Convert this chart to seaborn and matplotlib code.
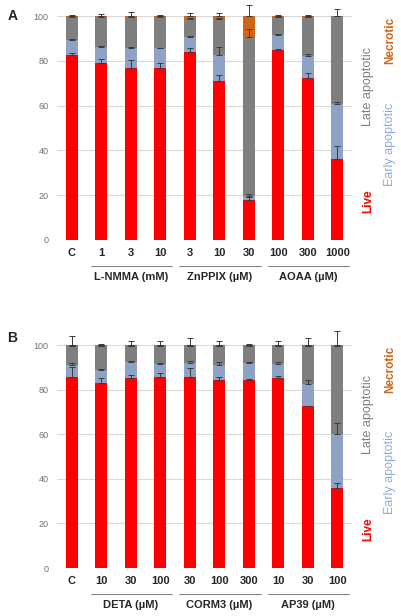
import matplotlib
matplotlib.use("Agg")
import matplotlib.pyplot as plt
import matplotlib.transforms as mtransforms
import numpy as np
import pandas as pd
import seaborn as sns

# panel A data (percent of cells)
A_labels = ["C", "1", "3", "10", "3", "10", "30", "100", "300", "1000"]
A_live = [82.5, 79, 77, 77, 84, 71, 17.8, 85, 72.5, 36]
A_early = [7, 7, 8.5, 8.5, 6.5, 11.5, 1.7, 6.5, 9.5, 24.5]
A_late = [10.2, 13.7, 14, 14.1, 8.3, 16.2, 71, 8.2, 17.7, 39.3]
A_necrotic = [0.3, 0.3, 0.5, 0.4, 1.2, 1.3, 9.5, 0.3, 0.3, 0.2]
A_live_err = [1, 2, 3.5, 2, 1.5, 2.5, 1.5, 0.3, 2, 6]
A_early_err = [0.3, 0.5, 0.5, 0.3, 0.5, 3.5, 1, 0.3, 1, 1]
A_late_err = [0.2, 0.2, 0.2, 0.2, 0.2, 0.3, 3.5, 0.2, 0.2, 0.2]
A_necrotic_err = [0.3, 1, 2, 0.5, 1.5, 1.5, 5, 0.3, 0.3, 3]
A_groups = [("L-NMMA (mM)", 1, 3), ("ZnPPIX (µM)", 4, 6), ("AOAA (µM)", 7, 9)]

# panel B data
B_labels = ["C", "10", "30", "100", "30", "100", "300", "10", "30", "100"]
B_live = [85.5, 83, 85, 85.5, 85.5, 84.5, 84.5, 85, 72.5, 36]
B_early = [5.5, 6, 7.5, 6, 6.5, 6.5, 7.5, 6.5, 10, 24]
B_late = [8.7, 10.7, 7.2, 8.2, 7.7, 8.7, 7.7, 8.2, 17.2, 39.7]
B_necrotic = [0.3, 0.3, 0.3, 0.3, 0.3, 0.3, 0.3, 0.3, 0.3, 0.3]
B_live_err = [4.5, 2, 1.5, 2, 4, 1, 0.3, 1, 0.3, 2]
B_early_err = [1, 0.3, 0.5, 0.5, 1, 1.5, 0.3, 1, 2, 5]
B_late_err = [0.2, 0.2, 0.2, 0.2, 0.2, 0.2, 0.2, 0.2, 0.2, 0.2]
B_necrotic_err = [4, 0.5, 2, 2, 3, 2, 0.3, 2, 3, 6.5]
B_groups = [("DETA (µM)", 1, 3), ("CORM3 (µM)", 4, 6), ("AP39 (µM)", 7, 9)]

C_LIVE = "#FF0000"
C_EARLY = "#8EA2C6"
C_LATE = "#7F7F7F"
C_NECRO = "#D0651A"

sns.set_style("white")
plt.rcParams["font.family"] = ["Liberation Sans", "DejaVu Sans"]


def draw_panel(ax, labels, live, early, late, necro, errs, groups):
  df = pd.DataFrame({"pos": range(len(labels)), "live": live, "early": early,
                     "late": late, "necro": necro})
  df["c_live"] = df["live"]
  df["c_early"] = df["c_live"] + df["early"]
  df["c_late"] = df["c_early"] + df["late"]
  df["c_necro"] = df["c_late"] + df["necro"]

  # stacked bars: draw the tallest first, then overlay
  for col, color in [("c_necro", C_NECRO), ("c_late", C_LATE),
                     ("c_early", C_EARLY), ("c_live", C_LIVE)]:
    sns.barplot(data=df, x="pos", y=col, color=color, saturation=1,
                width=0.41, linewidth=0, ax=ax, zorder=2)

  for col, err in zip(["c_live", "c_early", "c_late", "c_necro"], errs):
    ax.errorbar(df["pos"], df[col], yerr=[np.zeros(len(err)), err], fmt="none",
                ecolor="#3a3a3a", elinewidth=0.7, capsize=2, capthick=0.7,
                zorder=5, clip_on=False)

  ax.set_ylim(0, 100)
  ax.set_xlim(-0.5, len(labels) - 0.5)
  ax.set_yticks([0, 20, 40, 60, 80, 100])
  ax.yaxis.grid(True, color="#D9D9D9", linewidth=0.8, zorder=0)
  ax.set_axisbelow(True)
  for s in ax.spines.values():
    s.set_visible(False)
  ax.set_xticks(range(len(labels)))
  ax.set_xticklabels(labels, fontweight="bold", fontsize=8)
  ax.tick_params(axis="x", length=0, pad=6)
  ax.tick_params(axis="y", length=0, labelsize=6.5, labelcolor="#707070", pad=6)
  ax.set_xlabel("")
  ax.set_ylabel("")

  trans = mtransforms.blended_transform_factory(ax.transData, ax.transAxes)
  for name, a, b in groups:
    ax.plot([a - 0.35, b + 0.4], [-0.118, -0.118], color="#7f7f7f", lw=0.7,
            transform=trans, clip_on=False)
    ax.text((a + b) / 2, -0.145, name, transform=trans, ha="center", va="top",
            fontsize=8, fontweight="bold")

  # side legend
  ax.text(1.055, 0.6875, "Late apoptotic", transform=ax.transAxes, rotation=90,
          ha="center", va="center", fontsize=9, color=C_LATE)
  ax.text(1.055, 0.174, "Live", transform=ax.transAxes, rotation=90,
          ha="center", va="center", fontsize=8.5, color=C_LIVE, fontweight="bold")
  ax.text(1.13, 0.893, "Necrotic", transform=ax.transAxes, rotation=90,
          ha="center", va="center", fontsize=8.5, color=C_NECRO, fontweight="bold")
  ax.text(1.13, 0.429, "Early apoptotic", transform=ax.transAxes, rotation=90,
          ha="center", va="center", fontsize=9, color="#8FAADC")


fig = plt.figure(figsize=(4.02, 6.16), dpi=100)
axA = fig.add_axes([0.1418, 0.6104, 0.734, 0.3636])
axB = fig.add_axes([0.1418, 0.0779, 0.734, 0.362])

draw_panel(axA, A_labels, A_live, A_early, A_late, A_necrotic,
           [A_live_err, A_early_err, A_late_err, A_necrotic_err], A_groups)
draw_panel(axB, B_labels, B_live, B_early, B_late, B_necrotic,
           [B_live_err, B_early_err, B_late_err, B_necrotic_err], B_groups)

fig.text(0.018, 1 - 16 / 616, "A", fontsize=10, fontweight="bold", va="center")
fig.text(0.018, 1 - 338 / 616, "B", fontsize=10, fontweight="bold", va="center")

fig.savefig("out.png", dpi=100)
